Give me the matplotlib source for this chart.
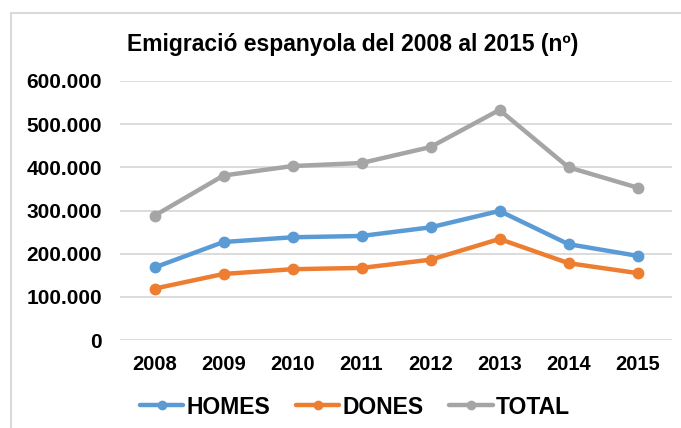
import matplotlib
matplotlib.use("Agg")
import matplotlib.pyplot as plt
from matplotlib.ticker import FuncFormatter
from matplotlib.patches import Rectangle

plt.rcParams['font.family'] = ['Liberation Sans', 'DejaVu Sans']

years = ['2008', '2009', '2010', '2011', '2012', '2013', '2014', '2015']
homes = [168000, 227000, 238000, 241000, 261000, 299000, 222000, 195000]
dones = [119000, 153000, 164000, 167000, 186000, 234000, 178000, 155000]
total = [288000, 381000, 403000, 410000, 447000, 533000, 400000, 353000]
series_names = ['HOMES', 'DONES', 'TOTAL']
colors = ['#5B9BD5', '#ED7D31', '#A5A5A5']
title = 'Emigració espanyola del 2008 al 2015 (nº)'

fig = plt.figure(figsize=(6.81, 4.28), dpi=100)
fig.patches.append(Rectangle((11/681, -0.1), 1.0, (1 - 13/428) + 0.1, transform=fig.transFigure,
                             fill=False, edgecolor='#D9D9D9', linewidth=1.5))
ax = fig.add_axes([120/681, 88/428, 552/681, 259/428])

x = list(range(len(years)))
for name, vals, c in zip(series_names, [homes, dones, total], colors):
    ax.plot(x, vals, color=c, linewidth=3.2, marker='o', markersize=7.5, label=name,
            solid_capstyle='round', zorder=3)

ax.set_xlim(-0.5, len(years) - 0.5)
ax.set_ylim(0, 600000)
ax.set_yticks(range(0, 600001, 100000))
ax.yaxis.set_major_formatter(FuncFormatter(lambda v, p: f"{int(v):,}".replace(',', '.')))
ax.set_xticks(x)
ax.set_xticklabels(years)
ax.grid(axis='y', color='#D9D9D9', linewidth=1.3, zorder=0)
for s in ax.spines.values():
    s.set_visible(False)
ax.tick_params(axis='both', length=0)
ax.tick_params(axis='y', pad=13, labelsize=15)
ax.tick_params(axis='x', pad=11, labelsize=14.5)
for lbl in ax.get_xticklabels() + ax.get_yticklabels():
    lbl.set_fontweight('bold')

fig.text(353/681, 1 - 44.5/428, title, ha='center', va='center', fontsize=16.5, fontweight='bold')

leg = fig.legend(loc='center', bbox_to_anchor=(355/681, 1 - 407/428), ncol=3, frameon=False,
                 prop={'weight': 'bold', 'size': 16.5}, handlelength=1.9, handletextpad=0.15,
                 columnspacing=1.1, markerscale=0.8)

fig.savefig('out.png', dpi=100)
